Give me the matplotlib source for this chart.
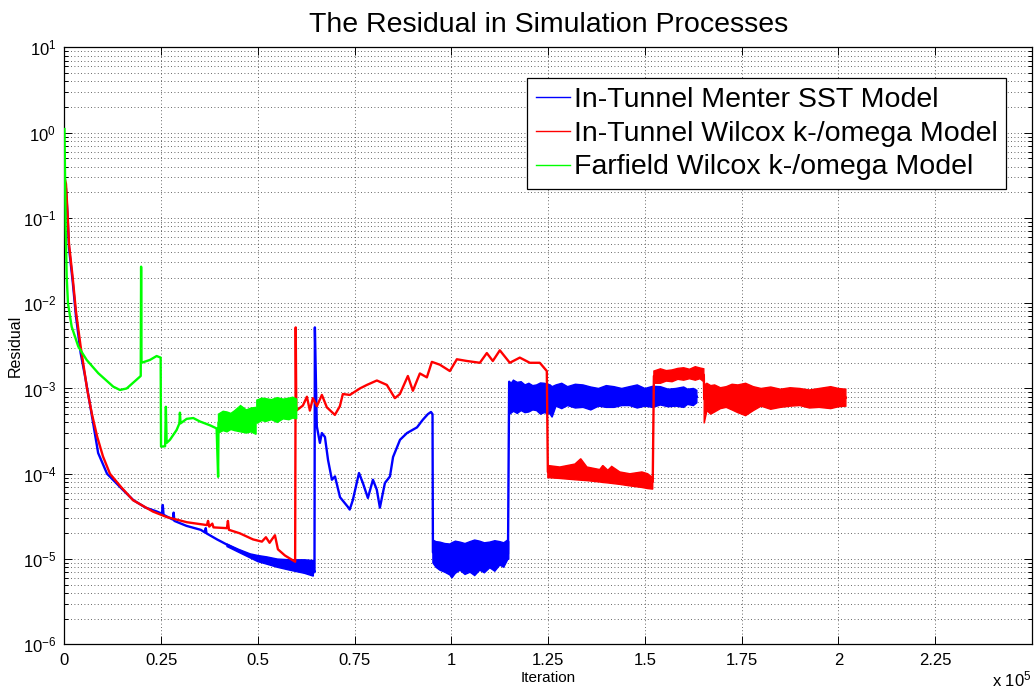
import matplotlib.pyplot as plt
from matplotlib.ticker import LogLocator, NullFormatter

plt.rcParams['font.family'] = ['Liberation Sans', 'DejaVu Sans']
plt.rcParams['mathtext.default'] = 'regular'

# ---- In-Tunnel Menter SST model ----
sst_it = [0, 390, 775, 1160, 2120, 2970, 4180, 5300, 6720, 8700, 11000, 14900, 17800,
          21000, 23900, 25200, 25400, 25600, 28000, 28200, 28400, 31500, 35200, 36300,
          36500, 36700, 39400, 43600, 47900, 52300, 58200, 64300, 64600, 64700, 65200,
          66000, 66500, 67300, 68100, 69100, 69900, 71200, 73200, 73700, 74500, 76100,
          77100, 78400, 79700, 80700, 81500, 82800, 84100, 84900, 86700, 88500, 91100,
          92600, 93900, 94700, 95100, 95200, 97000, 100000, 105000, 110000, 114600,
          114900, 118000, 125000, 135000, 145000, 155000, 163400]
sst_res = [0.28, 0.22, 0.11, 0.045, 0.018, 7.0e-3, 2.6e-3, 1.4e-3, 6.0e-4, 1.75e-4, 1.0e-4,
           6.6e-5, 4.9e-5, 4.0e-5, 3.6e-5, 3.4e-5, 4.3e-5, 3.3e-5, 2.9e-5, 3.5e-5, 2.8e-5,
           2.45e-5, 2.2e-5, 2.05e-5, 2.3e-5, 2.0e-5, 1.7e-5, 1.35e-5, 1.1e-5, 9.6e-6, 8.5e-6,
           7.8e-6, 7.0e-6, 5.2e-3, 3.6e-4, 2.3e-4, 3.0e-4, 2.7e-4, 1.45e-4, 8.5e-5, 9.3e-5,
           5.3e-5, 4.1e-5, 3.8e-5, 4.9e-5, 1.02e-4, 7.8e-5, 5.2e-5, 8.5e-5, 6.5e-5, 4.0e-5,
           7.8e-5, 9.3e-5, 1.57e-4, 2.5e-4, 3.0e-4, 3.5e-4, 4.3e-4, 5.0e-4, 5.3e-4, 5.0e-4,
           1.2e-5, 1.05e-5, 9.5e-6, 1.0e-5, 1.05e-5, 1.15e-5, 1.2e-3, 8.0e-4, 7.5e-4,
           8.0e-4, 8.0e-4, 8.0e-4, 8.0e-4]

# noisy stretches of the SST residual (lower / upper envelope)
sst_b1_it = [42000, 45000, 48000, 50000, 52300, 55000, 58200, 62000, 64300]
sst_b1_lo = [1.4e-5, 1.2e-5, 1.03e-5, 9.3e-6, 8.7e-6, 8.0e-6, 7.4e-6, 6.8e-6, 6.3e-6]
sst_b1_hi = [1.5e-5, 1.3e-5, 1.15e-5, 1.1e-5, 1.06e-5, 1.0e-5, 9.8e-6, 9.8e-6, 9.6e-6]

sst_b2_it = [95200, 96000, 97000, 98300, 99600, 100100, 101000, 102200, 103500, 104800, 106000,
             107300, 108500, 109900, 111200, 112500, 113500, 114500, 114800]
sst_b2_lo = [9.0e-6, 8.0e-6, 7.4e-6, 7.0e-6, 6.5e-6, 6.0e-6, 6.8e-6, 7.4e-6, 6.6e-6, 7.0e-6,
             6.4e-6, 7.4e-6, 6.9e-6, 7.9e-6, 7.2e-6, 8.5e-6, 8.0e-6, 9.8e-6, 1.0e-5]
sst_b2_hi = [1.67e-5, 1.6e-5, 1.58e-5, 1.52e-5, 1.5e-5, 1.55e-5, 1.62e-5, 1.58e-5, 1.52e-5,
             1.6e-5, 1.67e-5, 1.62e-5, 1.55e-5, 1.58e-5, 1.64e-5, 1.6e-5, 1.55e-5, 1.67e-5, 1.6e-5]

sst_b3_it = [115100, 116000, 117000, 118000, 119000, 120000, 121000, 122000, 123000, 124000,
             125500, 126000, 127000, 128500, 130000, 132000, 134000, 136000, 138000, 140000,
             142000, 144000, 146000, 148000, 150000, 152000, 154000, 156000, 158000, 160000,
             161000, 162500, 163400]
sst_b3_lo = [5.0e-4, 5.4e-4, 5.1e-4, 5.5e-4, 5.2e-4, 5.3e-4, 5.6e-4, 5.5e-4, 5.0e-4, 5.2e-4,
             5.0e-4, 4.6e-4, 6.2e-4, 5.8e-4, 6.3e-4, 5.9e-4, 6.0e-4, 5.6e-4, 6.2e-4, 6.0e-4,
             6.0e-4, 6.3e-4, 6.3e-4, 5.9e-4, 6.2e-4, 6.0e-4, 6.4e-4, 6.1e-4, 6.2e-4, 6.0e-4,
             6.5e-4, 6.3e-4, 6.8e-4]
sst_b3_hi = [1.1e-3, 1.25e-3, 1.18e-3, 1.2e-3, 1.1e-3, 1.15e-3, 1.08e-3, 1.1e-3, 1.16e-3, 1.15e-3,
             1.1e-3, 1.05e-3, 1.1e-3, 1.15e-3, 1.05e-3, 1.12e-3, 1.1e-3, 1.04e-3, 1.0e-3, 1.08e-3,
             1.05e-3, 1.0e-3, 1.05e-3, 1.1e-3, 1.0e-3, 1.06e-3, 1.05e-3, 9.8e-4, 1.0e-3, 1.04e-3,
             9.8e-4, 1.0e-3, 9.5e-4]

# ---- In-Tunnel Wilcox k-omega model ----
wil_it = [0, 390, 775, 1160, 2120, 2970, 4180, 5890, 7100, 8470, 9940, 11750, 14600, 17700,
          22860, 26480, 31640, 36800, 37100, 37400, 38200, 38500, 41970, 42230, 42500, 45330,
          48690, 51010, 52050, 53000, 53600, 54380, 55150, 56960, 59600, 59750, 59900,
          61600, 62640, 63410, 64190, 65220, 66510, 67800, 69870, 71160, 71930, 73740,
          76330, 78140, 80720, 83300, 85370, 86660, 88730, 90020, 91830, 93640, 94930,
          96990, 99580, 101390, 103970, 107330, 109130, 110680, 112490, 115070, 117650,
          120240, 122820, 124630, 124900, 130000, 140000, 152000, 152300, 158000, 165200,
          165300, 175000, 190000, 201900]
wil_res = [0.30, 0.25, 0.12, 0.05, 0.020, 8.0e-3, 3.1e-3, 9.6e-4, 5.0e-4, 2.7e-4, 1.6e-4,
           1.0e-4, 7.0e-5, 4.9e-5, 3.6e-5, 3.1e-5, 2.7e-5, 2.5e-5, 2.8e-5, 2.4e-5, 2.6e-5,
           2.35e-5, 2.3e-5, 2.8e-5, 2.2e-5, 2.0e-5, 1.7e-5, 1.6e-5, 1.8e-5, 1.55e-5, 1.7e-5,
           1.9e-5, 1.3e-5, 1.1e-5, 9.3e-6, 5.2e-3, 5.5e-4, 6.3e-4, 8.0e-4, 5.5e-4, 7.7e-4,
           6.2e-4, 8.4e-4, 6.0e-4, 4.9e-4, 6.2e-4, 8.6e-4, 8.4e-4, 1.0e-3, 1.1e-3, 1.24e-3,
           1.1e-3, 7.7e-4, 8.6e-4, 1.4e-3, 9.4e-4, 1.5e-3, 1.35e-3, 2.05e-3, 1.9e-3, 1.6e-3,
           2.2e-3, 2.1e-3, 2.0e-3, 2.6e-3, 2.1e-3, 2.8e-3, 2.0e-3, 2.3e-3, 2.0e-3, 2.0e-3,
           1.6e-3, 1.05e-4, 1.0e-4, 9.3e-5, 8.0e-5, 1.4e-3, 1.45e-3, 1.45e-3, 7.5e-4, 7.8e-4,
           7.8e-4, 7.8e-4]

wil_b1_it = [124900, 128000, 131900, 133400, 135000, 138300, 139100, 140400, 141400, 143500,
             146100, 149200, 150700, 152000]
wil_b1_lo = [9.0e-5, 8.8e-5, 8.5e-5, 8.4e-5, 8.3e-5, 8.0e-5, 7.9e-5, 7.8e-5, 7.7e-5, 7.5e-5,
             7.2e-5, 6.9e-5, 6.7e-5, 6.6e-5]
wil_b1_hi = [1.25e-4, 1.2e-4, 1.3e-4, 1.5e-4, 1.2e-4, 1.12e-4, 1.25e-4, 1.1e-4, 1.22e-4, 1.05e-4,
             1.0e-4, 1.05e-4, 1.0e-4, 9.0e-5]

wil_b2_it = [152300, 154000, 155500, 157000, 158500, 160000, 161500, 163000, 164200, 165200]
wil_b2_lo = [1.15e-3, 1.15e-3, 1.22e-3, 1.2e-3, 1.28e-3, 1.25e-3, 1.3e-3, 1.25e-3, 1.3e-3, 1.2e-3]
wil_b2_hi = [1.6e-3, 1.7e-3, 1.62e-3, 1.65e-3, 1.72e-3, 1.75e-3, 1.68e-3, 1.8e-3, 1.74e-3, 1.7e-3]

wil_b3_it = [165300, 166000, 167000, 168000, 169500, 171000, 172500, 174000, 176000, 178000,
             180000, 182500, 185000, 187500, 190000, 192500, 195000, 198000, 200000, 201900]
wil_b3_lo = [3.9e-4, 5.5e-4, 5.0e-4, 5.3e-4, 5.8e-4, 6.0e-4, 5.6e-4, 5.2e-4, 4.8e-4, 5.5e-4,
             6.2e-4, 5.7e-4, 6.0e-4, 6.2e-4, 6.3e-4, 5.9e-4, 6.0e-4, 5.8e-4, 6.1e-4, 6.2e-4]
wil_b3_hi = [1.1e-3, 1.15e-3, 1.08e-3, 1.1e-3, 1.02e-3, 1.05e-3, 1.12e-3, 1.1e-3, 1.15e-3, 1.05e-3,
             1.0e-3, 1.04e-3, 9.8e-4, 1.02e-3, 1.0e-3, 9.6e-4, 1.0e-3, 1.05e-3, 1.0e-3, 9.8e-4]

# ---- Farfield Wilcox k-omega model ----
far_it = [0, 150, 300, 570, 900, 1860, 3570, 5730, 8730, 12600, 14340, 16070, 19700, 19800,
          19900, 22080, 23810, 24850, 24950, 26000, 26200, 26400, 27250, 28980, 29700, 29830,
          30000, 31560, 33280, 35000, 37580, 39310, 39700, 39800, 49600, 49700, 60000]
far_res = [1.1, 0.3, 0.08, 0.0205, 0.010, 5.3e-3, 3.1e-3, 2.16e-3, 1.51e-3, 1.05e-3, 9.6e-4,
           1.0e-3, 1.4e-3, 0.0268, 2.0e-3, 2.16e-3, 2.4e-3, 2.3e-3, 2.08e-4, 2.1e-4, 6.1e-4,
           2.3e-4, 2.5e-4, 3.26e-4, 3.9e-4, 5.2e-4, 3.9e-4, 4.4e-4, 4.5e-4, 4.1e-4, 3.7e-4,
           3.4e-4, 9.2e-5, 4.0e-4, 4.2e-4, 5.6e-4, 5.8e-4]

far_b1_it = [39800, 41000, 42000, 43000, 44000, 45500, 47000, 48200, 49500]
far_b1_lo = [3.0e-4, 3.2e-4, 3.1e-4, 3.3e-4, 3.2e-4, 3.1e-4, 3.0e-4, 3.1e-4, 2.9e-4]
far_b1_hi = [5.0e-4, 5.4e-4, 5.3e-4, 5.1e-4, 5.5e-4, 6.3e-4, 5.6e-4, 5.9e-4, 6.0e-4]

far_b2_it = [49700, 51000, 52000, 53500, 55000, 56500, 58000, 59000, 60000]
far_b2_lo = [3.9e-4, 4.2e-4, 4.1e-4, 4.3e-4, 4.0e-4, 4.4e-4, 4.3e-4, 4.5e-4, 4.4e-4]
far_b2_hi = [7.3e-4, 7.7e-4, 7.6e-4, 7.4e-4, 7.8e-4, 7.5e-4, 7.7e-4, 7.9e-4, 7.5e-4]

labels = ['In-Tunnel Menter SST Model', 'In-Tunnel Wilcox k-/omega Model',
          'Farfield Wilcox k-/omega Model']
colors = ['#0000ff', '#ff0000', '#00ff00']

xticks = [0, 25000, 50000, 75000, 100000, 125000, 150000, 175000, 200000, 225000]
xticklabels = ['0', '0.25', '0.5', '0.75', '1', '1.25', '1.5', '1.75', '2', '2.25']

fig = plt.figure(figsize=(10.35, 6.97), dpi=100)
ax = fig.add_axes([0.0623, 0.0756, 0.9348, 0.8565])

series = [
    (sst_it, sst_res, [(sst_b1_it, sst_b1_lo, sst_b1_hi), (sst_b2_it, sst_b2_lo, sst_b2_hi),
                       (sst_b3_it, sst_b3_lo, sst_b3_hi)]),
    (wil_it, wil_res, [(wil_b1_it, wil_b1_lo, wil_b1_hi), (wil_b2_it, wil_b2_lo, wil_b2_hi),
                       (wil_b3_it, wil_b3_lo, wil_b3_hi)]),
    (far_it, far_res, [(far_b1_it, far_b1_lo, far_b1_hi), (far_b2_it, far_b2_lo, far_b2_hi)]),
]

handles = []
for k, (xs, ys, bands) in enumerate(series):
    z = 2 + k
    line, = ax.plot(xs, ys, color=colors[k], lw=1.7, label=labels[k], zorder=z)
    # each noisy stretch is one closed polygon: lower edge out, upper edge back
    for bx, blo, bhi in bands:
        ax.fill(list(bx) + list(bx[::-1]), list(blo) + list(bhi[::-1]),
                color=colors[k], lw=1.0, zorder=z)
    handles.append(line)

ax.set_yscale('log')
ax.set_xlim(0, 250000)
ax.set_ylim(1e-6, 10)

ax.set_xticks(xticks)
ax.set_xticklabels(xticklabels)
yt = [10.0 ** e for e in range(-6, 2)]
ax.set_yticks(yt)
ax.set_yticklabels(['$10^{%d}$' % e for e in range(-6, 2)])
ax.yaxis.set_minor_locator(LogLocator(base=10, subs=range(2, 10), numticks=20))
ax.yaxis.set_minor_formatter(NullFormatter())

ax.tick_params(which='both', direction='in', top=True, right=True, labelsize=12, width=0.7, pad=6)
ax.tick_params(which='major', length=6)
ax.tick_params(which='minor', length=3)
for s in ax.spines.values():
    s.set_linewidth(0.9)

grid_kw = dict(ls=(0, (1, 3)), color='0.2', lw=0.6)
ax.grid(True, which='major', axis='both', **grid_kw)
ax.grid(True, which='minor', axis='y', **grid_kw)
ax.set_axisbelow(True)

ax.set_title('The Residual in Simulation Processes', fontsize=20.5, pad=11)
ax.set_xlabel('Iteration', fontsize=11)
ax.set_ylabel('Residual', fontsize=11.5)
ax.xaxis.set_label_coords(0.5, -0.045)
ax.yaxis.set_label_coords(-0.043, 0.5)

fig.text(992 / 1035, 1 - 686 / 697, 'x $10^{5}$', fontsize=12, ha='left', va='baseline')

leg = ax.legend(handles=handles, loc='upper right', bbox_to_anchor=(0.9731, 0.9486),
                fontsize=20.5, handlelength=1.22, handletextpad=0.12, borderpad=0.3,
                labelspacing=0.28, borderaxespad=0, fancybox=False, framealpha=1,
                edgecolor='black')
leg.get_frame().set_linewidth(0.9)
for hl in leg.get_lines():
    hl.set_linewidth(1.0)

fig.savefig('out.png', dpi=100)
